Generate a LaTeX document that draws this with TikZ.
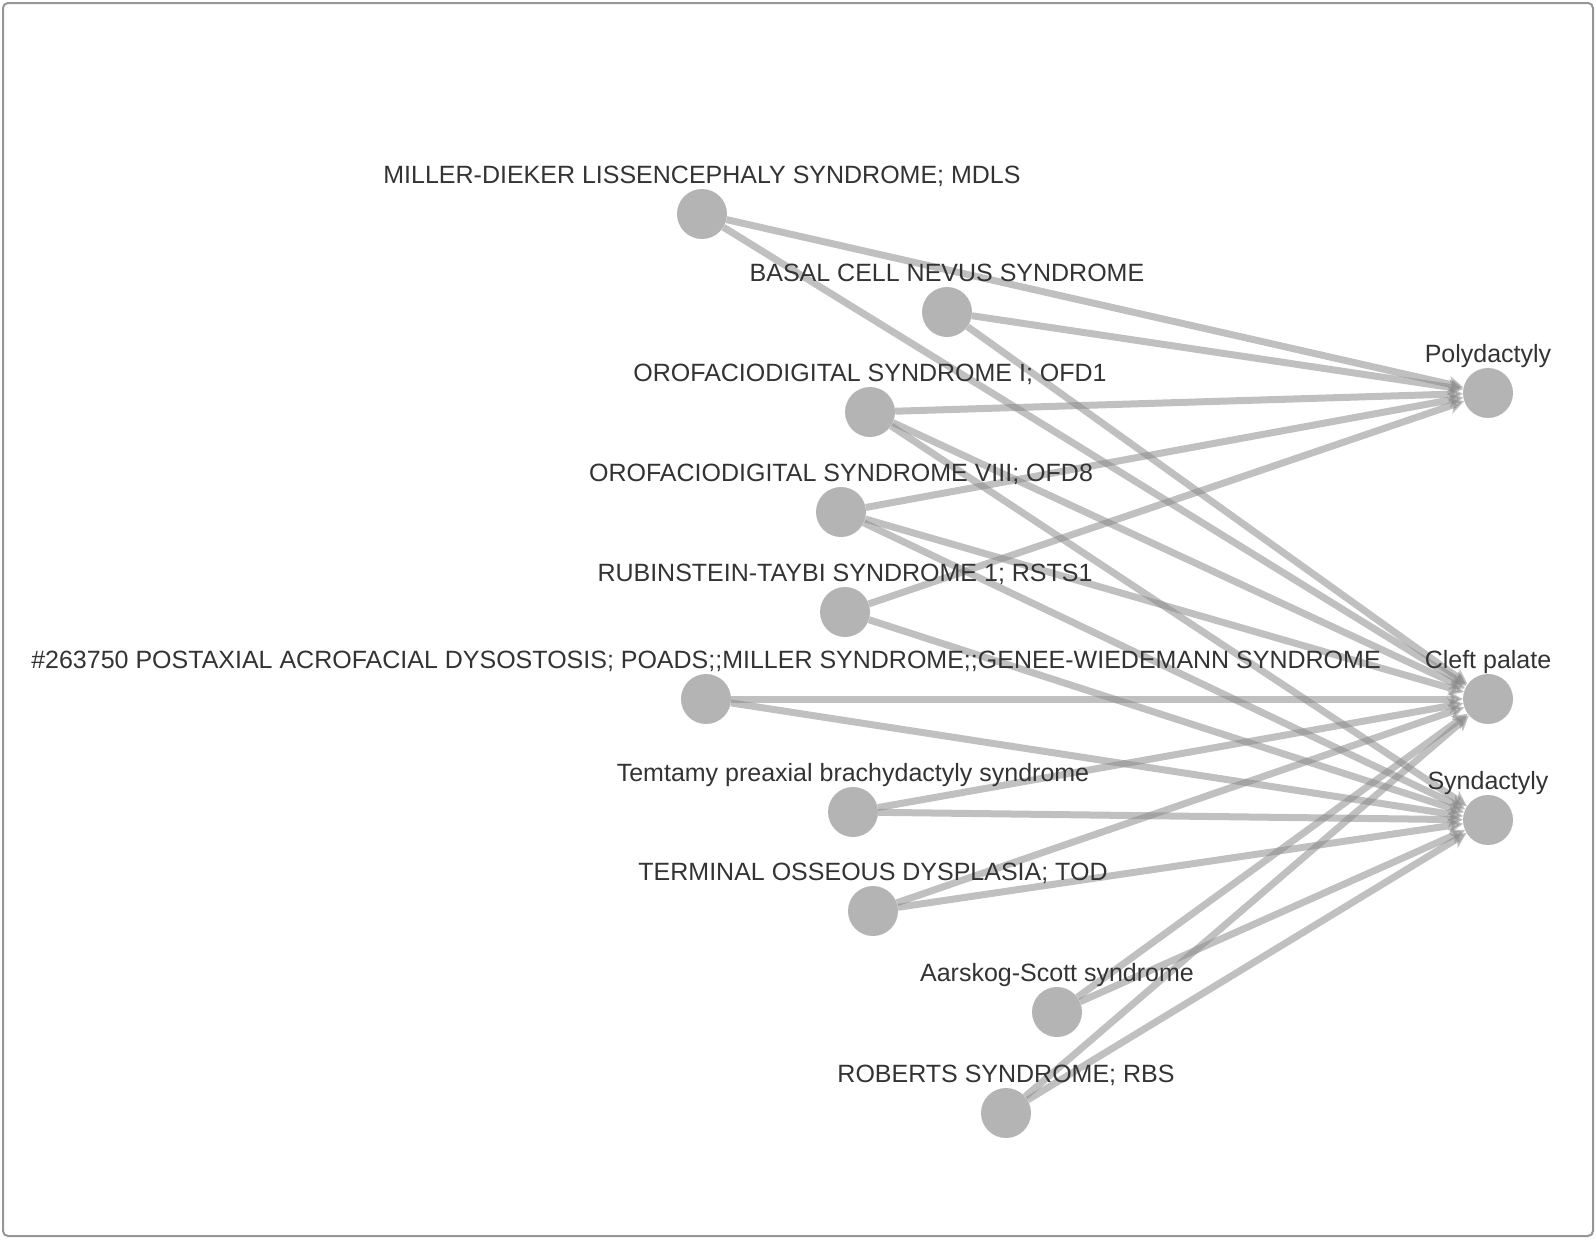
\documentclass[tikz,border=0pt]{standalone}
\usepackage{fontspec}
\setmainfont{Liberation Sans}
\usetikzlibrary{arrows.meta}
\definecolor{nodegray}{RGB}{180,180,180}
\definecolor{edgegray}{RGB}{140,140,140}
\definecolor{txtgray}{RGB}{51,51,51}
\definecolor{framegray}{RGB}{150,150,150}
\pgfdeclarelayer{edges}
\pgfsetlayers{edges,main}
\begin{document}
\begin{tikzpicture}[x=1pt,y=-1pt,
  dot/.style={circle,fill=nodegray,minimum size=50pt,inner sep=0pt},
  lbl/.style={text=txtgray,font=\fontsize{25}{30}\selectfont,anchor=base,inner sep=0pt},
  link/.style={draw=edgegray,opacity=0.55,line width=7pt,-{Stealth[length=15pt,width=16pt,inset=4pt]}}]
\useasboundingbox (0,0) rectangle (1596,1240);
\draw[framegray,line width=2pt,rounded corners=5pt] (3,3) rectangle (1593,1236);

\node[dot] (mdls) at (702,214) {};
\node[dot] (bcns) at (947,312) {};
\node[dot] (ofdi) at (870,412) {};
\node[dot] (ofdviii) at (841,512) {};
\node[dot] (rsts) at (845,612) {};
\node[dot] (poads) at (706,699) {};
\node[dot] (temt) at (853,812) {};
\node[dot] (tod) at (873,911) {};
\node[dot] (aars) at (1057,1012) {};
\node[dot] (rbs) at (1006,1113) {};
\node[dot] (poly) at (1488,393) {};
\node[dot] (cleft) at (1488,699) {};
\node[dot] (synd) at (1488,820) {};

\node[lbl] (mdlsL) at ([yshift=31pt]mdls.center) {MILLER-DIEKER LISSENCEPHALY SYNDROME; MDLS};
\node[lbl] (bcnsL) at ([yshift=31pt]bcns.center) {BASAL CELL NEVUS SYNDROME};
\node[lbl] (ofdiL) at ([yshift=31pt]ofdi.center) {OROFACIODIGITAL SYNDROME I; OFD1};
\node[lbl] (ofdviiiL) at ([yshift=31pt]ofdviii.center) {OROFACIODIGITAL SYNDROME VIII; OFD8};
\node[lbl] (rstsL) at ([yshift=31pt]rsts.center) {RUBINSTEIN-TAYBI SYNDROME 1; RSTS1};
\node[lbl] (poadsL) at ([yshift=31pt]poads.center) {\#263750 POSTAXIAL ACROFACIAL DYSOSTOSIS; POADS;;MILLER SYNDROME;;GENEE-WIEDEMANN SYNDROME};
\node[lbl] (temtL) at ([yshift=31pt]temt.center) {Temtamy preaxial brachydactyly syndrome};
\node[lbl] (todL) at ([yshift=31pt]tod.center) {TERMINAL OSSEOUS DYSPLASIA; TOD};
\node[lbl] (aarsL) at ([yshift=31pt]aars.center) {Aarskog-Scott syndrome};
\node[lbl] (rbsL) at ([yshift=31pt]rbs.center) {ROBERTS SYNDROME; RBS};
\node[lbl] (polyL) at ([yshift=31pt]poly.center) {Polydactyly};
\node[lbl] (cleftL) at ([yshift=31pt]cleft.center) {Cleft palate};
\node[lbl] (syndL) at ([yshift=31pt]synd.center) {Syndactyly};

\begin{pgfonlayer}{edges}
\draw[link] (mdls) -- (poly);
\draw[link] (mdls) -- (cleft);
\draw[link] (bcns) -- (poly);
\draw[link] (bcns) -- (cleft);
\draw[link] (ofdi) -- (poly);
\draw[link] (ofdi) -- (cleft);
\draw[link] (ofdi) -- (synd);
\draw[link] (ofdviii) -- (poly);
\draw[link] (ofdviii) -- (cleft);
\draw[link] (ofdviii) -- (synd);
\draw[link] (rsts) -- (poly);
\draw[link] (rsts) -- (synd);
\draw[link] (poads) -- (cleft);
\draw[link] (poads) -- (synd);
\draw[link] (temt) -- (cleft);
\draw[link] (temt) -- (synd);
\draw[link] (tod) -- (cleft);
\draw[link] (tod) -- (synd);
\draw[link] (aars) -- (cleft);
\draw[link] (aars) -- (synd);
\draw[link] (rbs) -- (cleft);
\draw[link] (rbs) -- (synd);
\end{pgfonlayer}
\end{tikzpicture}
\end{document}
